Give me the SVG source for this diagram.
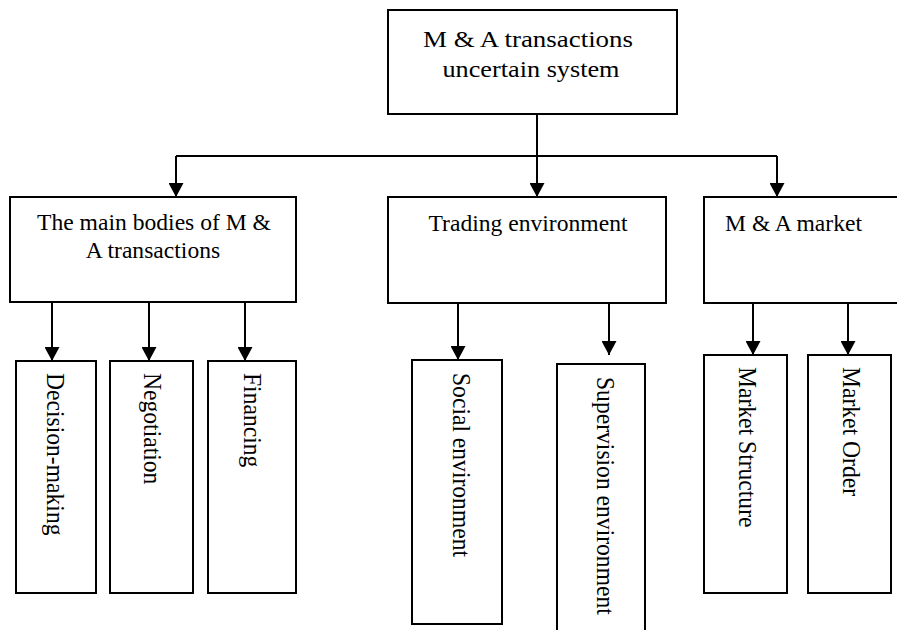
<svg xmlns="http://www.w3.org/2000/svg" width="897" height="630" viewBox="0 0 897 630">
<style>
.box{fill:#fff;stroke:#000;stroke-width:2}
.t{font-family:"Liberation Serif","Times New Roman",serif;font-size:23.6px;fill:#000}
.c{text-anchor:middle}
.con{fill:none;stroke:#000;stroke-width:2}
</style>
<defs>
<marker id="ah" markerUnits="userSpaceOnUse" markerWidth="15" markerHeight="15" viewBox="0 0 14 15" refX="14" refY="7.5" orient="auto">
<path d="M0,0 L14,7.5 L0,15 z" fill="#000"/>
</marker>
</defs>
<rect width="897" height="630" fill="#fff"/>
<g id="connectors">
<path class="con" d="M537,114 V197" marker-end="url(#ah)"/>
<path class="con" d="M176,156 H777"/>
<path class="con" d="M176,156 V197" marker-end="url(#ah)"/>
<path class="con" d="M777,156 V197" marker-end="url(#ah)"/>
<path class="con" d="M52,302 V361" marker-end="url(#ah)"/>
<path class="con" d="M149,302 V361" marker-end="url(#ah)"/>
<path class="con" d="M245,302 V361" marker-end="url(#ah)"/>
<path class="con" d="M458,303 V360" marker-end="url(#ah)"/>
<path class="con" d="M609,303 V355" marker-end="url(#ah)"/>
<path class="con" d="M753,303 V355" marker-end="url(#ah)"/>
<path class="con" d="M848,303 V355" marker-end="url(#ah)"/>
</g>
<g id="root">
<rect class="box" x="388" y="10" width="289" height="104"/>
<text class="t c" x="528" y="47" font-size="24" textLength="210" lengthAdjust="spacingAndGlyphs">M &amp; A transactions</text>
<text class="t c" x="531" y="77" font-size="24" textLength="177" lengthAdjust="spacingAndGlyphs">uncertain system</text>
</g>
<g id="main-bodies">
<rect class="box" x="10" y="197" width="286" height="105"/>
<text class="t c" x="154" y="230">The main bodies of M &amp;</text>
<text class="t c" x="153" y="258">A transactions</text>
</g>
<g id="trading-environment">
<rect class="box" x="388" y="197" width="278" height="106"/>
<text class="t c" x="528" y="231">Trading environment</text>
</g>
<g id="ma-market">
<rect class="box" x="704" y="197" width="200" height="106"/>
<text class="t" x="725" y="231">M &amp; A market</text>
</g>
<g id="decision-making">
<rect class="box" x="16" y="361" width="80" height="232"/>
<text class="t" transform="translate(47,373) rotate(90) scale(1,1.1)">Decision-making</text>
</g>
<g id="negotiation">
<rect class="box" x="110" y="361" width="83" height="232"/>
<text class="t" transform="translate(144,373) rotate(90) scale(1,1.1)">Negotiation</text>
</g>
<g id="financing">
<rect class="box" x="208" y="361" width="88" height="232"/>
<text class="t" transform="translate(244,373) rotate(90) scale(1,1.1)">Financing</text>
</g>
<g id="social-environment">
<rect class="box" x="412" y="360" width="90" height="264"/>
<text class="t" transform="translate(453,373) rotate(90) scale(1,1.1)" font-size="23.7">Social environment</text>
</g>
<g id="supervision-environment">
<path class="box" d="M557,640 V364 H645 V640"/>
<text class="t" transform="translate(597,377) rotate(90) scale(1,1.1)" font-size="24.4">Supervision environment</text>
</g>
<g id="market-structure">
<rect class="box" x="704" y="355" width="83" height="238"/>
<text class="t" transform="translate(739,367) rotate(90) scale(1,1.1)" font-size="24.3">Market Structure</text>
</g>
<g id="market-order">
<rect class="box" x="808" y="355" width="83" height="238"/>
<text class="t" transform="translate(843,367) rotate(90) scale(1,1.1)" font-size="24.3">Market Order</text>
</g>
</svg>
